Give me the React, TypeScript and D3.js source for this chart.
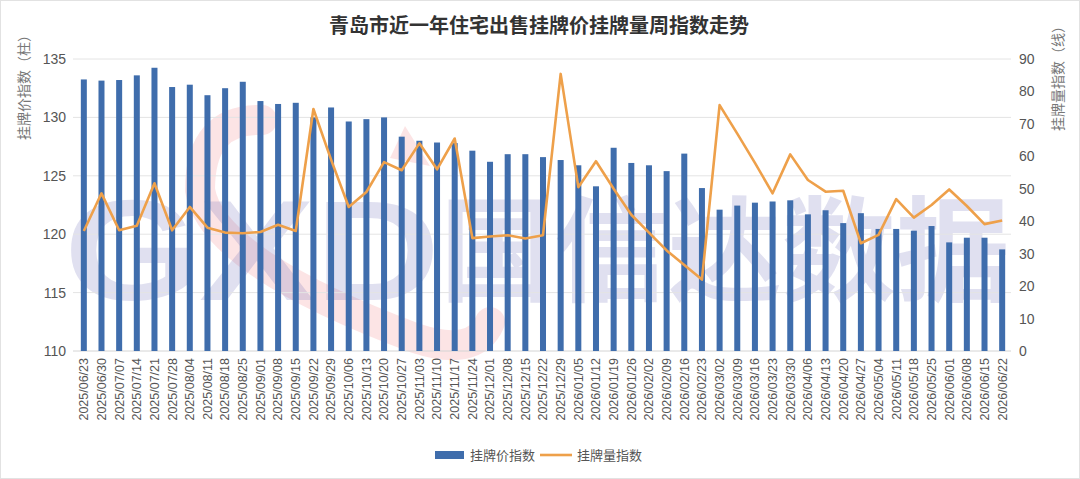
import React, { useEffect, useRef } from "react";
import * as d3 from "d3";

const weeks = [
  "2025/06/23", "2025/06/30", "2025/07/07", "2025/07/14", "2025/07/21", "2025/07/28",
  "2025/08/04", "2025/08/11", "2025/08/18", "2025/08/25", "2025/09/01", "2025/09/08",
  "2025/09/15", "2025/09/22", "2025/09/29", "2025/10/06", "2025/10/13", "2025/10/20",
  "2025/10/27", "2025/11/03", "2025/11/10", "2025/11/17", "2025/11/24", "2025/12/01",
  "2025/12/08", "2025/12/15", "2025/12/22", "2025/12/29", "2026/01/05", "2026/01/12",
  "2026/01/19", "2026/01/26", "2026/02/02", "2026/02/09", "2026/02/16", "2026/02/23",
  "2026/03/02", "2026/03/09", "2026/03/16", "2026/03/23", "2026/03/30", "2026/04/06",
  "2026/04/13", "2026/04/20", "2026/04/27", "2026/05/04", "2026/05/11", "2026/05/18",
  "2026/05/25", "2026/06/01", "2026/06/08", "2026/06/15", "2026/06/22",
];

// 挂牌价指数 (bars, left axis)
const priceIndex = [
  133.25, 133.15, 133.2, 133.6, 134.25, 132.6, 132.8, 131.9, 132.5, 133.05, 131.4, 131.15,
  131.25, 130.0, 130.85, 129.65, 129.85, 130.0, 128.35, 128.0, 127.85, 127.8, 127.15, 126.2,
  126.85, 126.85, 126.6, 126.35, 125.9, 124.1, 127.4, 126.1, 125.9, 125.4, 126.9, 123.95,
  122.1, 122.45, 122.7, 122.8, 122.9, 121.7, 122.05, 120.95, 121.8, 120.45, 120.45, 120.3,
  120.7, 119.3, 119.7, 119.7, 118.7,
];

// 挂牌量指数 (line, right axis)
const volumeIndex = [
  37.0, 48.6, 37.2, 38.6, 51.7, 37.2, 44.4, 38.0, 36.5, 36.3, 36.7, 38.9,
  37.0, 74.6, 59.0, 44.4, 49.0, 58.2, 55.7, 64.0, 56.0, 65.5, 34.8, 35.3,
  35.7, 34.7, 35.7, 85.4, 50.5, 58.5, 50.0, 42.0, 36.5, 31.0, 26.5, 22.0,
  75.8, 67.0, 58.0, 48.6, 60.6, 52.7, 49.1, 49.4, 33.2, 35.8, 46.8, 41.1,
  45.0, 49.8, 44.7, 39.1, 40.2,
];

const leftTicks = [110, 115, 120, 125, 130, 135];
const rightTicks = [0, 10, 20, 30, 40, 50, 60, 70, 80, 90];

const title = "青岛市近一年住宅出售挂牌价挂牌量周指数走势";
const leftTitle = "挂牌价指数（柱）";
const rightTitle = "挂牌量指数（线）";
const legendNames = ["挂牌价指数", "挂牌量指数"];

const BAR = "#3f6dac";
const LINE = "#eea04a";
const FONT = "'Liberation Sans', 'Noto Sans CJK SC', sans-serif";
const CJK = "'Noto Sans CJK SC', sans-serif";

const App: React.FC = () => {
  const chartRef = useRef<HTMLDivElement>(null);

  useEffect(() => {
    document.body.style.margin = "0";
    const container = chartRef.current;
    if (!container) return;

    const width = 1080;
    const height = 479;

    const root = d3.select(container);
    root.selectAll("*").remove();

    const svg = root
      .append("svg")
      .attr("width", width)
      .attr("height", height)
      .style("display", "block")
      .style("font-family", FONT);

    svg.append("rect")
      .attr("x", 0.5).attr("y", 0.5)
      .attr("width", width - 1).attr("height", height - 1)
      .attr("fill", "#fff")
      .attr("stroke", "#e2e2e2");

    const x = d3.scaleBand().domain(weeks).range([75, 1011]).paddingInner(0.66).paddingOuter(0.33);
    const yL = d3.scaleLinear().domain([110, 135]).range([351, 59]);
    const yR = d3.scaleLinear().domain([0, 90]).range([351, 59]);

    // watermark (logo, faint)
    const wm = svg.append("g").attr("pointer-events", "none");
    wm.append("path")
      .attr("d", "M 262 120 Q 200 118 200 190 Q 212 262 415 338 Q 475 358 490 322")
      .attr("fill", "none")
      .attr("stroke", "rgba(240,130,135,0.22)")
      .attr("stroke-width", 30)
      .attr("stroke-linecap", "round");
    wm.append("path")
      .attr("d", "M 405 126 L 430 166 L 390 158 Z")
      .attr("fill", "rgba(240,130,135,0.22)");
    wm.append("text")
      .attr("x", 64).attr("y", 300)
      .attr("font-size", 142)
      .attr("font-weight", "bold")
      .attr("textLength", 376)
      .attr("lengthAdjust", "spacingAndGlyphs")
      .attr("fill", "rgba(100,100,180,0.2)")
      .text("GXD");
    wm.append("text")
      .attr("x", 440).attr("y", 292)
      .attr("font-size", 114)
      .attr("font-weight", "bold")
      .attr("textLength", 570)
      .attr("lengthAdjust", "spacingAndGlyphs")
      .attr("fill", "rgba(100,100,180,0.2)")
      .style("font-family", CJK)
      .text("国信达数据");

    // gridlines
    svg.append("g")
      .selectAll("line")
      .data(leftTicks)
      .join("line")
      .attr("x1", 73).attr("x2", 1011)
      .attr("y1", (d) => yL(d)).attr("y2", (d) => yL(d))
      .attr("stroke", (d) => (d === 110 ? "#d4d4d4" : "#e4e4e4"))
      .attr("stroke-width", 1);

    // bars
    svg.append("g")
      .selectAll("rect")
      .data(priceIndex)
      .join("rect")
      .attr("x", (_, i) => x(weeks[i]) as number)
      .attr("y", (d) => yL(d))
      .attr("width", x.bandwidth())
      .attr("height", (d) => yL(110) - yL(d))
      .attr("fill", BAR);

    // line
    const line = d3.line<number>()
      .x((_, i) => (x(weeks[i]) as number) + x.bandwidth() / 2)
      .y((d) => yR(d));
    svg.append("path")
      .datum(volumeIndex)
      .attr("d", line)
      .attr("fill", "none")
      .attr("stroke", LINE)
      .attr("stroke-width", 2.6)
      .attr("stroke-linejoin", "round");

    // left axis
    const gL = svg.append("g").attr("transform", "translate(66,0)")
      .call(d3.axisLeft(yL).tickValues(leftTicks).tickSize(0).tickPadding(0));
    gL.select(".domain").remove();
    gL.selectAll("text")
      .attr("fill", "#555")
      .style("font-size", "14px")
      .style("font-family", FONT);

    // right axis
    const gR = svg.append("g").attr("transform", "translate(1019,0)")
      .call(d3.axisRight(yR).tickValues(rightTicks).tickSize(0).tickPadding(0));
    gR.select(".domain").remove();
    gR.selectAll("text")
      .attr("fill", "#555")
      .style("font-size", "14px")
      .style("font-family", FONT);

    // x labels (rotated)
    const gX = svg.append("g").attr("transform", "translate(0,358)")
      .call(d3.axisBottom(x).tickSize(0).tickPadding(0));
    gX.select(".domain").remove();
    gX.selectAll("text")
      .attr("fill", "#555")
      .style("font-size", "12.5px")
      .style("font-family", FONT)
      .attr("text-anchor", "end")
      .attr("transform", "rotate(-90)")
      .attr("dx", 0)
      .attr("dy", "0.35em")
      .attr("x", 0)
      .attr("y", 0);

    // titles
    svg.append("text")
      .attr("x", 539).attr("y", 33)
      .attr("text-anchor", "middle")
      .attr("font-size", 20)
      .attr("font-weight", "bold")
      .attr("fill", "#333")
      .style("font-family", CJK)
      .text(title);

    svg.append("text")
      .attr("transform", "translate(29,84) rotate(-90)")
      .attr("text-anchor", "middle")
      .attr("font-size", 14)
      .attr("fill", "#777")
      .style("font-family", CJK)
      .text(leftTitle);

    svg.append("text")
      .attr("transform", "translate(1063,75) rotate(-90)")
      .attr("text-anchor", "middle")
      .attr("font-size", 14)
      .attr("fill", "#777")
      .style("font-family", CJK)
      .text(rightTitle);

    // legend
    const lg = svg.append("g").style("font-family", CJK);
    lg.append("rect").attr("x", 435).attr("y", 451).attr("width", 29).attr("height", 8).attr("fill", BAR);
    lg.append("text").attr("x", 470).attr("y", 460).attr("font-size", 13).attr("fill", "#555").text(legendNames[0]);
    lg.append("line").attr("x1", 540).attr("x2", 572).attr("y1", 455).attr("y2", 455)
      .attr("stroke", LINE).attr("stroke-width", 2.6);
    lg.append("text").attr("x", 577).attr("y", 460).attr("font-size", 13).attr("fill", "#555").text(legendNames[1]);
  }, []);

  return <div ref={chartRef}></div>;
};

export default App;
